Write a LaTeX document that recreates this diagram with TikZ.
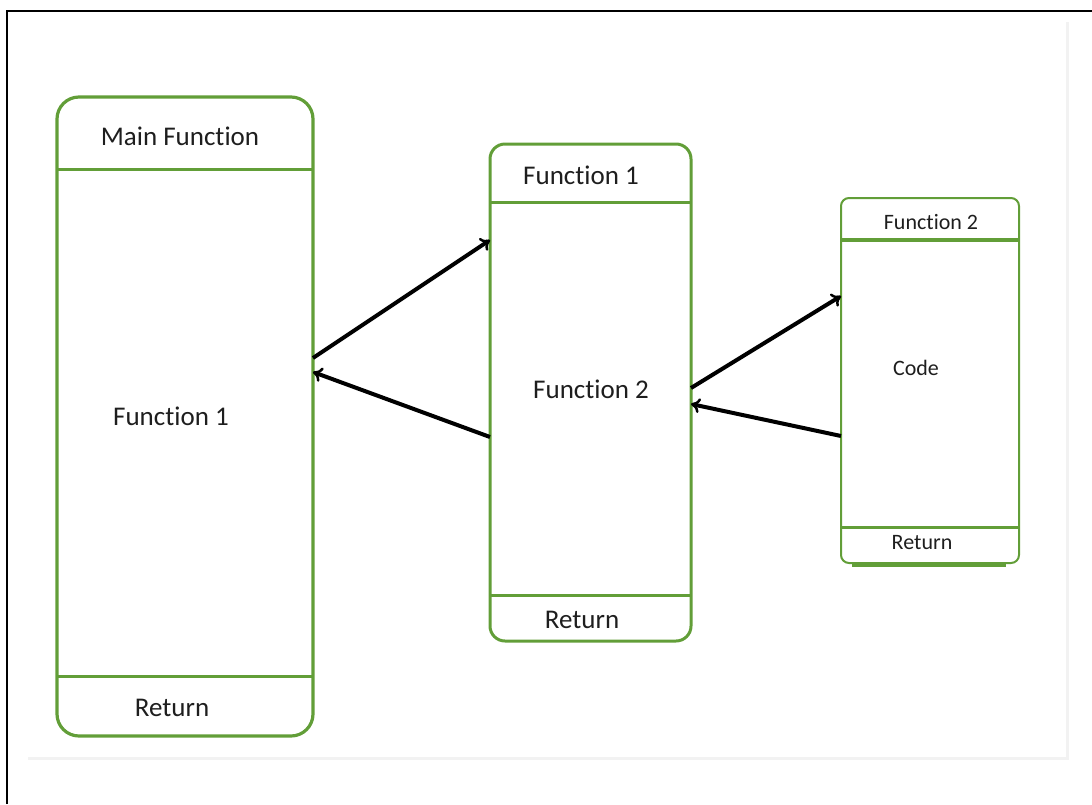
\documentclass[tikz,border=0pt]{standalone}
\usepackage{fontspec}
\setmainfont{Carlito}[Ligatures=NoCommon]
\usetikzlibrary{arrows.meta, positioning}
\definecolor{boxgreen}{RGB}{98,158,56}
\definecolor{inkgray}{RGB}{30,30,30}

\begin{document}
\begin{tikzpicture}[x=1pt, y=-1pt,
    frame/.style={draw=boxgreen, rounded corners=#1, inner sep=0pt, outer sep=0pt},
    bigtxt/.style={text=inkgray, font=\fontsize{27}{32}\selectfont},
    smalltxt/.style={text=inkgray, font=\fontsize{22}{26}\selectfont},
    call/.style={line width=4pt, -{To[length=9pt, width=15pt, line width=2.5pt]}}]
  \useasboundingbox (0,0) rectangle (1092,804);
  % page edge and the faint panel behind the boxes
  \draw[black!5, line width=3pt] (28,758) -- (1067,758) -- (1067,22);
  \draw[line width=2pt] (7,804) -- (7,11) -- (1092,11);

  % name / centre / size / header line / footer line / corner / line width
  \foreach \n/\cx/\cy/\w/\h/\t/\b/\r/\lw in {main/185/416.5/256/639/169/676/22/3.2,
      fone/590.5/392.5/201/497/202/595/15/3, ftwo/930/380.5/178/365/240/527/8/2} {
    \node[frame=\r pt, line width=\lw pt, minimum width=\w pt, minimum height=\h pt] (\n) at (\cx,\cy) {};
    \draw[boxgreen, line width=3pt] (\n.west |- 0,\t) -- (\n.east |- 0,\t);
    \draw[boxgreen, line width=3pt] (\n.west |- 0,\b) -- (\n.east |- 0,\b);
  }
  \draw[boxgreen, line width=4pt] (ftwo.west |- 0,240) -- (ftwo.east |- 0,240);
  \draw[boxgreen, line width=4pt] ([xshift=11pt, yshift=-2pt]ftwo.south west) -- ([xshift=-13pt, yshift=-2pt]ftwo.south east);

  \node[bigtxt] (mainhead) at (180,136) {Main Function};
  \node[bigtxt] (mainbody) at (171,416) {Function 1};
  \node[bigtxt] (mainret) at (172,708) {Return};
  \node[bigtxt] (fonehead) at (581,175) {Function 1};
  \node[bigtxt] (fonebody) at (591,389) {Function 2};
  \node[bigtxt] (foneret) at (582,620) {Return};
  \node[smalltxt] (ftwohead) at (931,222) {Function 2};
  \node[smalltxt] (ftwobody) at (916,368) {Code};
  \node[smalltxt] (ftworet) at (922,543) {Return};

  % calls go out, returns come back
  \draw[call] (main.east |- 0,358) -- (fone.west |- 0,240);
  \draw[call] (fone.west |- 0,437) -- (main.east |- 0,372);
  \draw[call] (fone.east |- 0,388) -- (ftwo.west |- 0,296);
  \draw[call] (ftwo.west |- 0,436) -- (fone.east |- 0,404);
\end{tikzpicture}
\end{document}
